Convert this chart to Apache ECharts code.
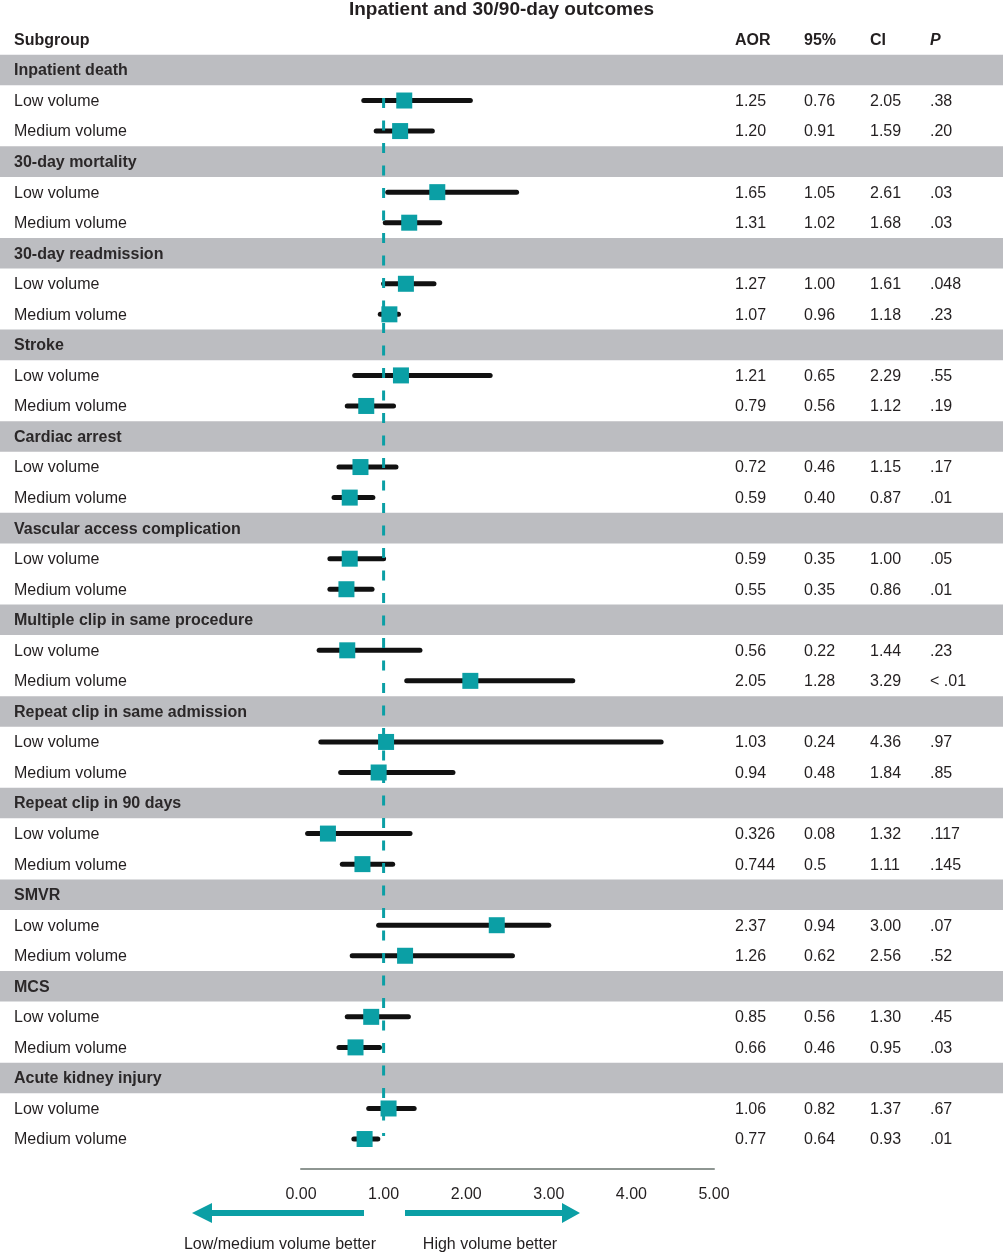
<!DOCTYPE html>
<html>
<head>
<meta charset="utf-8">
<script src="https://cdn.jsdelivr.net/npm/echarts@6/dist/echarts.min.js"></script>
<style>
html,body{margin:0;padding:0;background:#fff;}
#chart{width:1003px;height:1252px;}
</style>
</head>
<body>
<div id="chart"></div>
<script>
// ---- data ----
const title = 'Inpatient and 30/90-day outcomes';
const headers = ['Subgroup', 'AOR', '95%', 'CI', 'P'];
const groups = ['Inpatient death', '30-day mortality', '30-day readmission', 'Stroke', 'Cardiac arrest',
  'Vascular access complication', 'Multiple clip in same procedure', 'Repeat clip in same admission',
  'Repeat clip in 90 days', 'SMVR', 'MCS', 'Acute kidney injury'];
const subgroups = ['Low volume', 'Medium volume'];
const aorText = ['1.25','1.20','1.65','1.31','1.27','1.07','1.21','0.79','0.72','0.59','0.59','0.55',
  '0.56','2.05','1.03','0.94','0.326','0.744','2.37','1.26','0.85','0.66','1.06','0.77'];
const ciLowText = ['0.76','0.91','1.05','1.02','1.00','0.96','0.65','0.56','0.46','0.40','0.35','0.35',
  '0.22','1.28','0.24','0.48','0.08','0.5','0.94','0.62','0.56','0.46','0.82','0.64'];
const ciHighText = ['2.05','1.59','2.61','1.68','1.61','1.18','2.29','1.12','1.15','0.87','1.00','0.86',
  '1.44','3.29','4.36','1.84','1.32','1.11','3.00','2.56','1.30','0.95','1.37','0.93'];
const pText = ['.38','.20','.03','.03','.048','.23','.55','.19','.17','.01','.05','.01',
  '.23','< .01','.97','.85','.117','.145','.07','.52','.45','.03','.67','.01'];
const xTickValues = [0, 1, 2, 3, 4, 5];
const refValue = 1;
const directionLabels = ['Low/medium volume better', 'High volume better'];

// ---- build rows ----
const rows = [];   // {kind, label, idx}
groups.forEach((g, gi) => {
  rows.push({ kind: 'group', label: g });
  subgroups.forEach((s, si) => rows.push({ kind: 'item', label: s, idx: gi * subgroups.length + si }));
});
const nRows = rows.length;
const bandData = [], textData = [], ciData = [], pointData = [];
rows.forEach((r, ri) => {
  textData.push([0, ri]);
  if (r.kind === 'group') bandData.push([0, ri]);
  else {
    ciData.push([parseFloat(ciLowText[r.idx]), ri, parseFloat(ciHighText[r.idx])]);
    pointData.push([parseFloat(aorText[r.idx]), ri]);
  }
});
textData.push([0, -1]); // header row

const FONT = "'Liberation Sans', Arial, Helvetica, sans-serif";
const TXT = '#231f20';
const TEAL = '#0b9fa5';
const colX = [14, 735, 804, 870, 930];
const TEXT_DY = 1;

function txt(x, y, text, opt) {
  return {
    type: 'text', x: x, y: y + TEXT_DY,
    style: Object.assign({
      text: text, fill: TXT, fontSize: 16, fontFamily: FONT,
      align: 'left', verticalAlign: 'middle'
    }, opt || {})
  };
}

const chart = echarts.init(document.getElementById('chart'), null, { renderer: 'canvas' });
const option = {
  animation: false,
  backgroundColor: '#fff',
  title: {
    text: title, left: 'center', top: -5,
    textStyle: { fontFamily: FONT, fontSize: 19, fontWeight: 'bold', color: TXT }
  },
  grid: { left: 301, right: 289, top: 54.7, bottom: 97.7 },
  xAxis: {
    type: 'value', min: xTickValues[0], max: xTickValues[xTickValues.length - 1], interval: 1,
    position: 'bottom', offset: 14,
    axisLine: { show: true, onZero: false, lineStyle: { color: '#8e9692', width: 2 } },
    axisTick: { show: false }, splitLine: { show: false },
    axisLabel: { formatter: v => v.toFixed(2), fontSize: 16, fontFamily: FONT, color: TXT, margin: 18 }
  },
  yAxis: { type: 'value', inverse: true, min: -0.5, max: nRows - 0.5, show: false },
  series: [
    {
      type: 'custom', name: 'bands', z: 0, clip: false, silent: true,
      data: bandData,
      renderItem: (params, api) => {
        const y = api.coord([0, api.value(1)])[1];
        const h = api.size([0, 1])[1];
        return { type: 'rect', shape: { x: 0, y: y - h / 2, width: api.getWidth(), height: h },
          style: { fill: '#bcbdc1' } };
      }
    },
    {
      type: 'custom', name: 'text', z: 5, clip: false, silent: true,
      data: textData,
      renderItem: (params, api) => {
        const ri = api.value(1);
        const y = api.coord([0, ri])[1];
        if (ri < 0) {
          return { type: 'group', children: headers.map((h, i) =>
            txt(colX[i], y, h, { fontWeight: 'bold', fontStyle: i === 4 ? 'italic' : 'normal' })) };
        }
        const r = rows[ri];
        if (r.kind === 'group') {
          return txt(colX[0], y, r.label, { fontWeight: 'bold', fill: '#2b2829' });
        }
        return { type: 'group', children: [
          txt(colX[0], y, r.label),
          txt(colX[1], y, aorText[r.idx]),
          txt(colX[2], y, ciLowText[r.idx]),
          txt(colX[3], y, ciHighText[r.idx]),
          txt(colX[4], y, pText[r.idx])
        ] };
      }
    },
    {
      type: 'custom', name: 'ci', z: 2, clip: false, silent: true,
      data: ciData,
      renderItem: (params, api) => {
        const a = api.coord([api.value(0), api.value(1)]);
        const b = api.coord([api.value(2), api.value(1)]);
        return { type: 'line', shape: { x1: a[0], y1: a[1], x2: b[0], y2: b[1] },
          style: { stroke: '#111', lineWidth: 5, lineCap: 'round' } };
      }
    },
    {
      type: 'line', name: 'ref', z: 3, silent: true, symbol: 'none',
      data: [[refValue, 0.92], [refValue, nRows - 1.1]],
      lineStyle: { color: TEAL, width: 3, type: [10, 12.5] }
    },
    {
      type: 'scatter', name: 'AOR', z: 4, silent: true,
      symbol: 'rect', symbolSize: 16,
      itemStyle: { color: TEAL, opacity: 1 },
      data: pointData
    }
  ],
  graphic: [
    { type: 'polygon', silent: true,
      shape: { points: [[364,1210],[212,1210],[212,1203],[192,1213],[212,1223],[212,1216],[364,1216]] },
      style: { fill: TEAL } },
    { type: 'polygon', silent: true,
      shape: { points: [[405,1210],[562,1210],[562,1203],[580,1213],[562,1223],[562,1216],[405,1216]] },
      style: { fill: TEAL } },
    { type: 'text', x: 280, y: 1245, silent: true,
      style: { text: directionLabels[0], fill: TXT, fontSize: 16, fontFamily: FONT, align: 'center', verticalAlign: 'middle' } },
    { type: 'text', x: 490, y: 1245, silent: true,
      style: { text: directionLabels[1], fill: TXT, fontSize: 16, fontFamily: FONT, align: 'center', verticalAlign: 'middle' } }
  ]
};
chart.setOption(option);
</script>
</body>
</html>
